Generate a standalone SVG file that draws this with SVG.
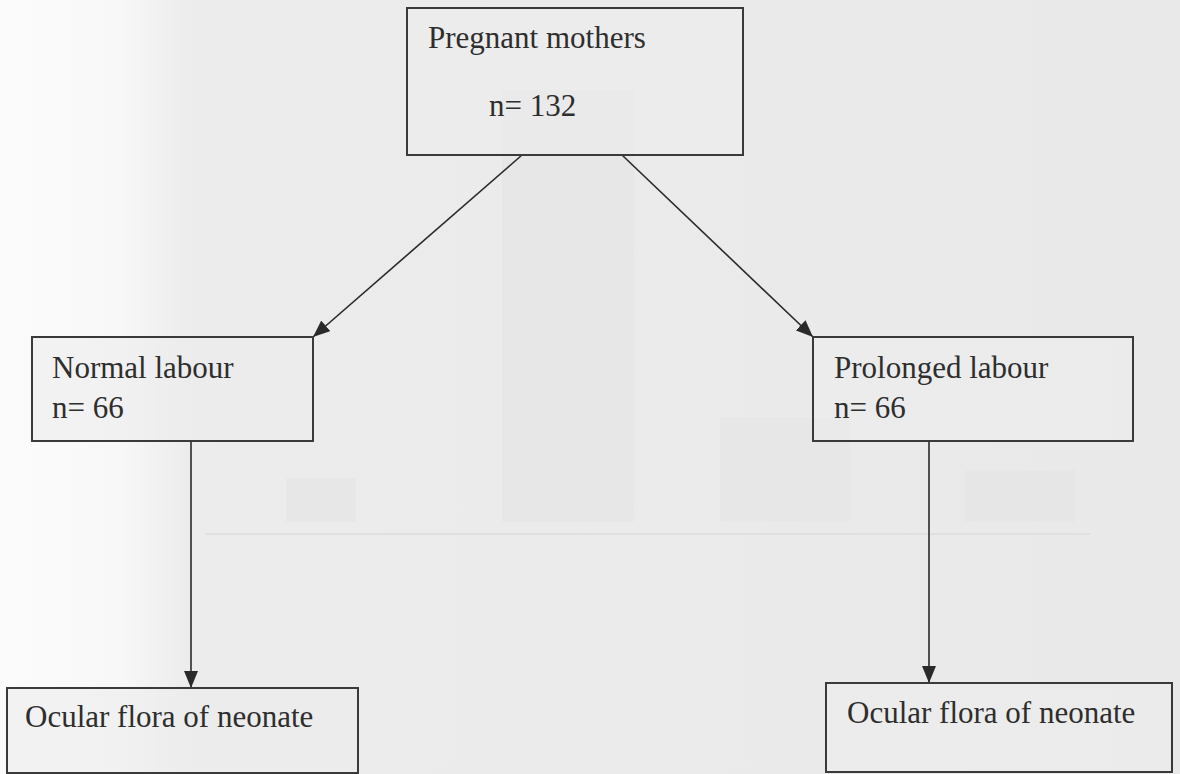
<svg xmlns="http://www.w3.org/2000/svg" width="1180" height="774" viewBox="0 0 1180 774">
<defs>
<linearGradient id="bg" x1="0" y1="0" x2="1" y2="0">
<stop offset="0" stop-color="#fbfbfb"/>
<stop offset="0.1" stop-color="#f8f8f8"/>
<stop offset="0.16" stop-color="#ececec"/>
<stop offset="1" stop-color="#e9e9e9"/>
</linearGradient>
<marker id="arr" viewBox="0 0 17 14" refX="17" refY="7" markerWidth="17" markerHeight="14" markerUnits="userSpaceOnUse" orient="auto">
<path d="M0,0 L17,7 L0,14 z" fill="#2a2a2a"/>
</marker>
<style>
.box{fill:#ececec;fill-opacity:0.6;stroke:#3a3a3a;stroke-width:2}
.lbl{font-family:'Liberation Serif','Times New Roman','DejaVu Serif',serif;font-size:31px;fill:#2e2e2e}
.edge{stroke:#2a2a2a;stroke-width:1.6;fill:none;marker-end:url(#arr)}
.ghost{fill:#e3e3e3;opacity:0.5}
</style>
</defs>
<rect x="0" y="0" width="1180" height="774" fill="url(#bg)"/>
<g id="ghost">
<rect class="ghost" x="502" y="90" width="132" height="432"/>
<rect class="ghost" x="286" y="478" width="70" height="44"/>
<rect class="ghost" x="720" y="418" width="130" height="104"/>
<rect class="ghost" x="965" y="470" width="110" height="52"/>
<line x1="205" y1="534" x2="1090" y2="534" stroke="#e0e0e0" stroke-width="2"/>
</g>
<g id="connectors">
<line class="edge" x1="522" y1="155" x2="313" y2="337"/>
<line class="edge" x1="622" y1="155" x2="813" y2="337"/>
<line class="edge" x1="191" y1="441" x2="191" y2="688"/>
<line class="edge" x1="929" y1="441" x2="929" y2="683"/>
</g>
<g id="pregnant">
<rect class="box" x="407" y="8" width="336" height="147"/>
<text class="lbl" font-family="Liberation Serif, serif" x="428" y="48">Pregnant mothers</text>
<text class="lbl" font-family="Liberation Serif, serif" x="489" y="116">n= 132</text>
</g>
<g id="normal">
<rect class="box" x="32" y="337" width="281" height="104"/>
<text class="lbl" font-family="Liberation Serif, serif" x="52" y="378">Normal labour</text>
<text class="lbl" font-family="Liberation Serif, serif" x="52" y="418">n= 66</text>
</g>
<g id="prolonged">
<rect class="box" x="813" y="337" width="320" height="104"/>
<text class="lbl" font-family="Liberation Serif, serif" x="834" y="378">Prolonged labour</text>
<text class="lbl" font-family="Liberation Serif, serif" x="834" y="418">n= 66</text>
</g>
<g id="ocular-left">
<rect class="box" x="7" y="688" width="351" height="85"/>
<text class="lbl" font-family="Liberation Serif, serif" x="25" y="727">Ocular flora of neonate</text>
</g>
<g id="ocular-right">
<rect class="box" x="826" y="683" width="346" height="89"/>
<text class="lbl" font-family="Liberation Serif, serif" x="847" y="723">Ocular flora of neonate</text>
</g>
</svg>
